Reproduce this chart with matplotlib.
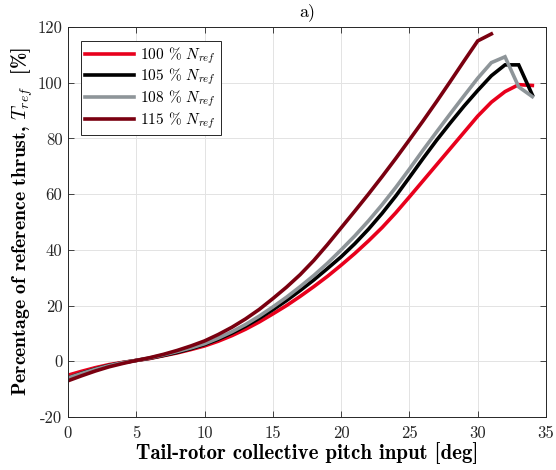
import matplotlib
matplotlib.use('Agg')
import matplotlib.pyplot as plt

# Pitch input [deg]
pitch = list(range(0, 35))

# Thrust in % of reference
thrust_100 = [-5, -3.6, -2.3, -1.2, -0.4, 0.3, 1.0, 2.0, 3.0, 4.2,
              5.5, 7.2, 9.2, 11.5, 14.1, 17, 20, 23.3, 26.8, 30.5,
              34.5, 38.7, 43.2, 48, 53.3, 59, 64.8, 70.6, 76.4, 82.2,
              88, 93, 96.8, 99.3, 99]
thrust_105 = [-6, -4.3, -2.8, -1.5, -0.5, 0.3, 1.1, 2.1, 3.2, 4.5,
              6, 7.9, 10.1, 12.6, 15.4, 18.5, 21.8, 25.4, 29.2, 33.3,
              37.5, 42.2, 47.4, 53.1, 59.3, 66, 72.8, 79.4, 85.6, 91.6,
              97.2, 102.5, 106.4, 106.4, 95.6]
thrust_108 = [-6, -4.4, -2.9, -1.6, -0.5, 0.3, 1.2, 2.3, 3.5, 4.8,
              6.3, 8.3, 10.6, 13.2, 16.2, 19.5, 23, 26.8, 30.8, 35.2,
              40, 45, 50.4, 56.2, 62.4, 69, 75.8, 82.4, 88.9, 95.3,
              101.6, 107.2, 109.3, 98.5, 95]
thrust_115 = [-7, -5.2, -3.5, -2, -0.8, 0.3, 1.3, 2.5, 3.9, 5.5,
              7.3, 9.6, 12.2, 15.2, 18.6, 22.5, 26.6, 31.1, 36.2, 41.9,
              47.9, 53.9, 60, 66.3, 72.8, 79.5, 86.3, 93.3, 100.5, 107.8,
              115, 117.5]

series = [
    ('100', thrust_100, '#e8001c'),
    ('105', thrust_105, '#000000'),
    ('108', thrust_108, '#8e9599'),
    ('115', thrust_115, '#7a0010'),
]

plt.rcParams['font.family'] = 'serif'
plt.rcParams['font.serif'] = ['cmr10']
plt.rcParams['mathtext.fontset'] = 'cm'
plt.rcParams['axes.unicode_minus'] = False

fig = plt.figure(figsize=(5.56, 4.70), dpi=100)
ax = fig.add_axes([0.1223, 0.1128, 0.8597, 0.8298])

for name, vals, col in series:
    ax.plot(pitch[:len(vals)], vals, color=col, lw=2.6,
            label=name + r' % $N_{ref}$', solid_joinstyle='miter')

ax.set_xlim(0, 35)
ax.set_ylim(-20, 120)
ax.set_xticks(range(0, 36, 5))
ax.set_yticks(range(-20, 121, 20))
ax.grid(True, color='#e3e3e3', lw=0.7)
ax.set_axisbelow(True)
ax.tick_params(direction='in', top=True, right=True, length=4,
               width=0.6, labelsize=12, colors='#262626')
ax.tick_params(axis='x', pad=6)
ax.tick_params(axis='y', pad=4)
for sp in ax.spines.values():
    sp.set_color('#262626')
    sp.set_linewidth(0.7)

ax.set_xlabel('Tail-rotor collective pitch input [deg]', fontfamily='cmb10',
              fontsize=15, labelpad=1)
ax.set_ylabel(r'Percentage of reference thrust, $T_{ref}$  [%]',
              fontfamily='cmb10', fontsize=14.2, labelpad=2)
ax.set_title('a)', fontsize=13, pad=8)

leg = ax.legend(loc='upper left', fontsize=11, handlelength=3.2,
                bbox_to_anchor=(0.027, 0.965), borderaxespad=0,
                fancybox=False, framealpha=1, labelspacing=0.08,
                borderpad=0.3, handletextpad=0.4)
leg.get_frame().set_edgecolor('#262626')
leg.get_frame().set_linewidth(0.7)

fig.savefig('out.png', dpi=100)
